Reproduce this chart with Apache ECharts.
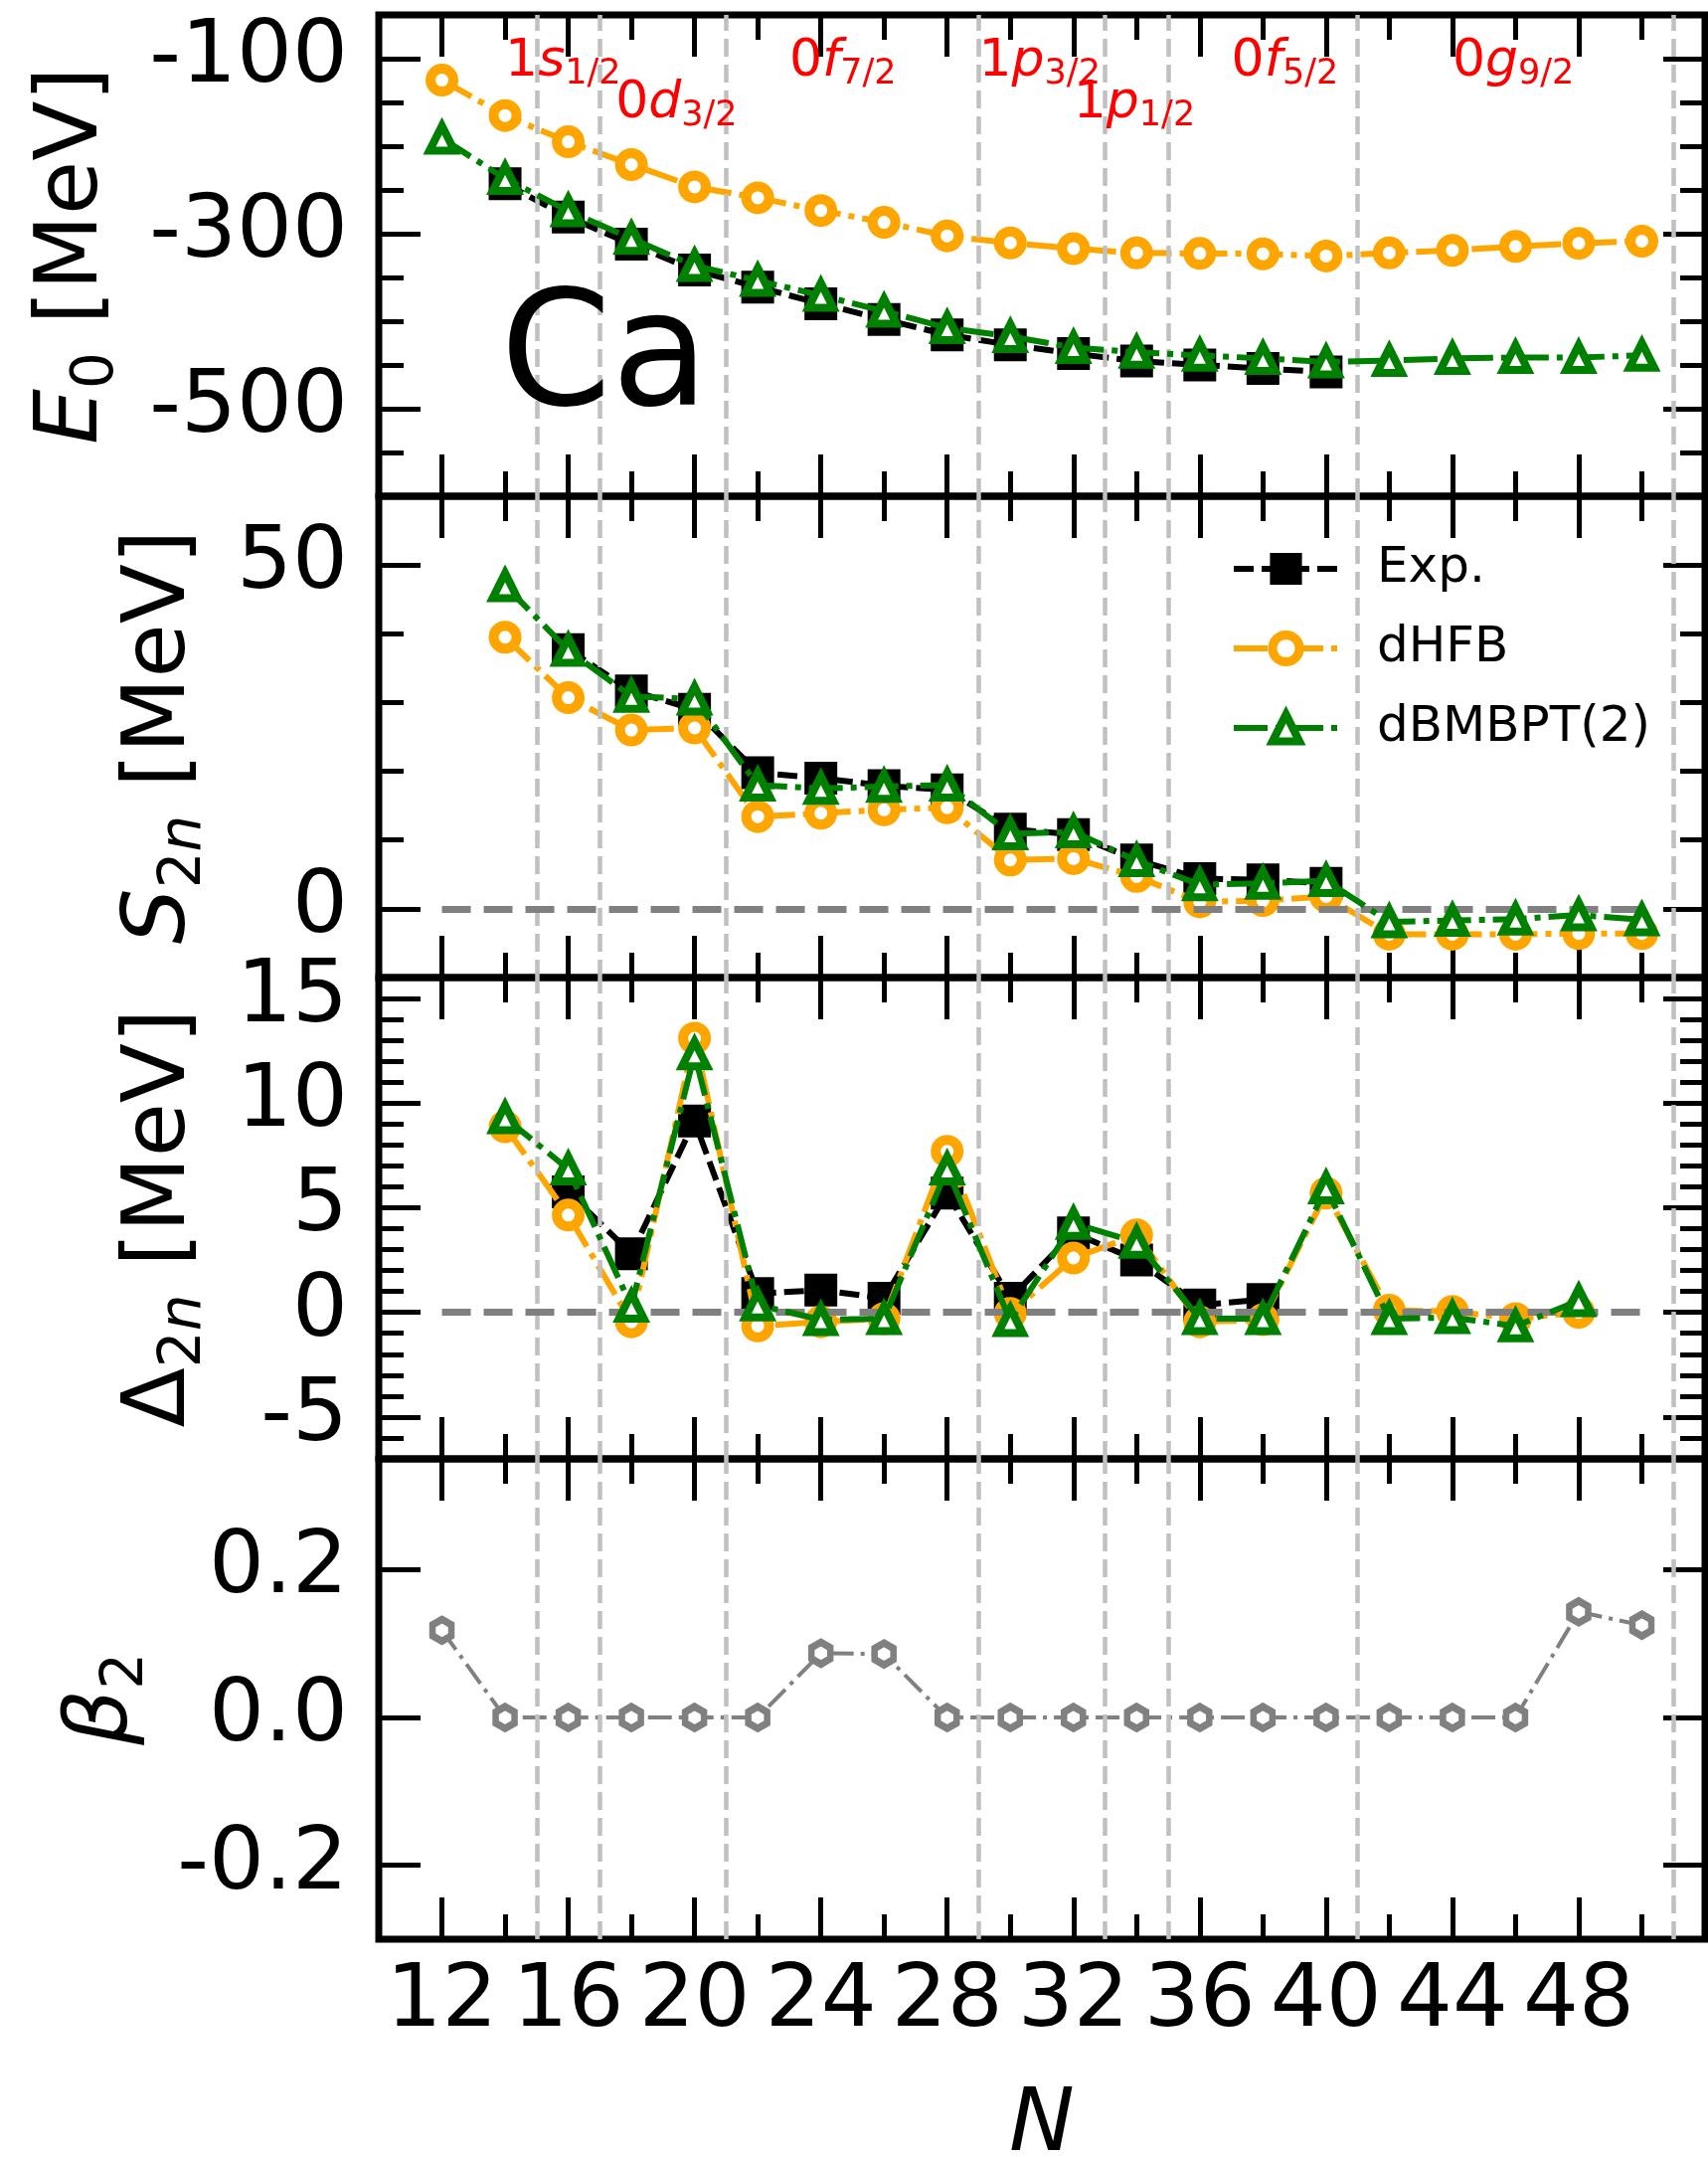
<!DOCTYPE html>
<html><head><meta charset="utf-8">
<script src="https://cdn.jsdelivr.net/npm/echarts@6/dist/echarts.min.js"></script>
<style>html,body{margin:0;padding:0;background:#fff}#chart{width:1718px;height:2169px}</style>
</head><body><div id="chart"></div>
<script>
// ---------------- data ----------------
const N = [12,14,16,18,20,22,24,26,28,30,32,34,36,38,40,42,44,46,48,50];

const E0_exp    = [null,-243,-281,-312,-341.5,-361,-380,-398,-415.5,-427,-437,-445.5,-450,-454,-458,null,null,null,null,null];
const E0_dhfb   = [-124.5,-165,-195,-221,-246.5,-259,-273.5,-287,-302.5,-310.5,-317,-322,-322.5,-323,-325.5,-322,-319,-314.5,-311,-308.5];
const E0_dbmbpt = [-191,-237,-274,-305.5,-336.5,-353.5,-370.5,-388.5,-407.5,-417.5,-430,-435.5,-439,-442.5,-446.5,-445,-442.5,-441.5,-441.5,-439];

const S2n_exp    = [null,null,37.7,31.7,29.0,19.8,19.0,17.9,17.3,11.6,10.8,7.1,4.4,4.2,3.7,null,null,null,null,null];
const S2n_dhfb   = [null,39.5,30.7,26.0,26.3,13.4,13.9,14.4,14.7,7.1,7.3,4.7,1.0,1.2,1.8,-3.7,-3.7,-3.7,-3.6,-3.6];
const S2n_dbmbpt = [null,47.0,37.6,30.9,30.5,18.0,17.5,17.8,18.0,10.9,11.2,7.0,3.5,3.7,4.1,-1.9,-1.7,-1.5,-0.9,-1.6];

const D2n_exp    = [null,null,5.76,2.8,9.14,0.9,1.07,0.67,5.7,0.67,3.8,2.5,0.35,0.62,null,null,null,null,null,null];
const D2n_dhfb   = [null,8.87,4.65,-0.45,13.1,-0.65,-0.45,-0.3,7.7,-0.05,2.6,3.7,-0.45,-0.35,5.7,0.1,0.05,-0.3,0.0,null];
const D2n_dbmbpt = [null,9.3,6.85,0.3,12.35,0.35,-0.35,-0.3,6.85,-0.4,4.25,3.35,-0.3,-0.3,5.95,-0.3,-0.25,-0.65,0.55,null];

const beta2 = [0.118,0,0,0,0,0,0.087,0.086,0,0,0,0,0,0,0,0,0,0,0.143,0.125];

const shellLines = [15,17,21,29,33,35,41,51];
const zeroLineRange = [12,50];

const shellLabelN = [14,17.5,23,29,32,37,44];
const shellLabelE = [-104,-152,-104,-104,-152,-104,-104];
const shellLabelText = [['1','s','1/2'],['0','d','3/2'],['0','f','7/2'],['1','p','3/2'],['1','p','1/2'],['0','f','5/2'],['0','g','9/2']];
const elementLabel = {text:'Ca', N:13.85, E:-448};

const xMajor = [12,16,20,24,28,32,36,40,44,48];
const yMajor = [[-500,-300,-100],[0,50],[-5,0,5,10,15],[-0.2,0,0.2]];
const yRange = [[-600,-50],[-10,60],[-7,16],[-0.3,0.35]];
const yMinorStep = [50,10,1,null];
const legendNames = ['Exp.','dHFB','dBMBPT(2)'];

// ---------------- style ----------------
const FONT = 'DejaVu Sans';
const ORANGE = '#FFA500', GREEN = '#008000', GRAY = '#808080';
const gridTops = [15,499,983,1467];
const gridHeights = [484,484,484,483];
const TICKW = 5, MAJLEN = 42, MINLEN = 25;
const LW = 6;

function pairs(xs, ys){ return xs.map((x,i)=>[x, ys[i]]); }

const grids = gridTops.map((t,i)=>({left:381, right:3, top:t, height:gridHeights[i], show:true,
  outerBoundsMode:'none', containLabel:false,
  borderColor:'#000', borderWidth:7, backgroundColor:'rgba(0,0,0,0)'}));

const xAxes = [], yAxes = [];
const tickStyle = {color:'#000', width:TICKW};
const noLine = {show:false, onZero:false};
for (let g=0; g<4; g++){
  const base = {type:'value', gridIndex:g, min:10, max:52, splitLine:{show:false}, axisLine:noLine};
  const last = g===3;
  xAxes.push(Object.assign({}, base, {position:'bottom',
    axisTick:{show:true, inside:true, length:MAJLEN, lineStyle:tickStyle, customValues:xMajor},
    axisLabel:{show:last, customValues:xMajor, margin:20, fontSize:88, fontFamily:FONT, color:'#000'},
    name: last ? 'N' : '', nameLocation:'middle', nameGap:145,
    nameTextStyle:{fontSize:88, fontFamily:FONT, fontStyle:'italic', color:'#000'}}));
  xAxes.push(Object.assign({}, base, {position:'bottom', interval:2,
    axisTick:{show:true, inside:true, length:MINLEN, lineStyle:tickStyle}, axisLabel:{show:false}}));
  xAxes.push(Object.assign({}, base, {position:'top',
    axisTick:{show:true, inside:true, length:MAJLEN, lineStyle:tickStyle, customValues:xMajor}, axisLabel:{show:false}}));
  xAxes.push(Object.assign({}, base, {position:'top', interval:2,
    axisTick:{show:true, inside:true, length:MINLEN, lineStyle:tickStyle}, axisLabel:{show:false}}));
}

const yNames = [
  '{i|E}{s|0}{t| [MeV]}',
  '{i|S}{s|2}{si|n}{t| [MeV]}',
  '{t|\u0394}{s|2}{si|n}{t| [MeV]}',
  '{i|\u03b2}{s|2}'
];
const yNameGaps = [254,166,166,224];
const nameRich = {
  i:{fontSize:88, fontFamily:FONT, fontStyle:'italic', lineHeight:106, color:'#000'},
  t:{fontSize:88, fontFamily:FONT, lineHeight:106, color:'#000'},
  s:{fontSize:58, fontFamily:FONT, lineHeight:58, verticalAlign:'bottom', color:'#000'},
  si:{fontSize:58, fontFamily:FONT, fontStyle:'italic', lineHeight:58, verticalAlign:'bottom', color:'#000'}
};
for (let g=0; g<4; g++){
  const base = {type:'value', gridIndex:g, min:yRange[g][0], max:yRange[g][1], splitLine:{show:false}, axisLine:noLine};
  const fmt = g===3 ? (v)=>v.toFixed(1) : (v)=>String(v);
  yAxes.push(Object.assign({}, base, {position:'left',
    axisTick:{show:true, inside:true, length:MAJLEN, lineStyle:tickStyle, customValues:yMajor[g]},
    axisLabel:{show:true, customValues:yMajor[g], margin:31, fontSize:88, fontFamily:FONT, color:'#000', formatter:fmt},
    name: yNames[g], nameLocation:'middle', nameGap:yNameGaps[g], nameRotate:90,
    nameTextStyle:{fontSize:88, fontFamily:FONT, color:'#000', rich:nameRich}}));
  const hasMinor = yMinorStep[g] !== null;
  yAxes.push(Object.assign({}, base, {position:'left', interval: hasMinor ? yMinorStep[g] : undefined,
    axisTick:{show:hasMinor, inside:true, length:MINLEN, lineStyle:tickStyle}, axisLabel:{show:false}}));
  yAxes.push(Object.assign({}, base, {position:'right',
    axisTick:{show:true, inside:true, length:MAJLEN, lineStyle:tickStyle, customValues:yMajor[g]}, axisLabel:{show:false}}));
  yAxes.push(Object.assign({}, base, {position:'right', interval: hasMinor ? yMinorStep[g] : undefined,
    axisTick:{show:hasMinor, inside:true, length:MINLEN, lineStyle:tickStyle}, axisLabel:{show:false}}));
}

const series = [];
function helper(g, withZero){
  const ml = shellLines.map(v=>({xAxis:v, lineStyle:{color:'#c0c0c0', width:4.5, type:[18,8]}}));
  if (withZero) ml.push([{coord:[zeroLineRange[0],0], lineStyle:{color:GRAY, width:7, type:[29,13]}},{coord:[zeroLineRange[1],0]}]);
  series.push({type:'line', xAxisIndex:g*4, yAxisIndex:g*4, data:[], z:1, silent:true,
    markLine:{silent:true, symbol:['none','none'], label:{show:false}, animation:false, data:ml, emphasis:{disabled:true}}});
}
function trio(g, exp, hfb, bmb){
  series.push({name:'Exp.', type:'line', xAxisIndex:g*4, yAxisIndex:g*4, data:pairs(N,exp), z:3,
    lineStyle:{color:'#000', width:LW, type:[20,8]}, symbol:'rect', symbolSize:33,
    itemStyle:{color:'#000'}, emphasis:{disabled:true}});
  series.push({name:'dHFB', type:'line', xAxisIndex:g*4, yAxisIndex:g*4, data:pairs(N,hfb), z:4,
    lineStyle:{color:ORANGE, width:LW, type:[34,8,6,8]}, symbol:'circle', symbolSize:23,
    itemStyle:{color:'#fff', borderColor:ORANGE, borderWidth:10}, emphasis:{disabled:true}});
  series.push({name:'dBMBPT(2)', type:'line', xAxisIndex:g*4, yAxisIndex:g*4, data:pairs(N,bmb), z:5,
    lineStyle:{color:GREEN, width:LW, type:[34,8,6,8]}, symbol:'triangle', symbolSize:25,
    itemStyle:{color:'#fff', borderColor:GREEN, borderWidth:8, borderJoin:'miter'}, emphasis:{disabled:true}});
}

helper(0,false); trio(0, E0_exp, E0_dhfb, E0_dbmbpt);
helper(1,true);  trio(1, S2n_exp, S2n_dhfb, S2n_dbmbpt);
helper(2,true);  trio(2, D2n_exp, D2n_dhfb, D2n_dbmbpt);
helper(3,false);
series.push({name:'beta2', type:'line', xAxisIndex:12, yAxisIndex:12, data:pairs(N,beta2), z:3,
  lineStyle:{color:GRAY, width:4, type:[24,7,4,7]},
  symbol:'path://M0,-1L0.866,-0.5L0.866,0.5L0,1L-0.866,0.5L-0.866,-0.5Z', symbolSize:[19,22],
  itemStyle:{color:'#fff', borderColor:GRAY, borderWidth:7, borderJoin:'miter'}, emphasis:{disabled:true}});

// shell labels
series.push({type:'scatter', xAxisIndex:0, yAxisIndex:0, z:6, silent:true, symbolSize:0,
  itemStyle:{opacity:1},
  data: shellLabelN.map((n,i)=>({value:[n, shellLabelE[i]], txt:shellLabelText[i]})),
  label:{show:true, position:[0,0], align:'left', verticalAlign:'middle', opacity:1,
    formatter:(p)=>'{a|'+p.data.txt[0]+'}{b|'+p.data.txt[1]+'}{c|'+p.data.txt[2]+'}',
    rich:{
      a:{fontSize:52, fontFamily:FONT, color:'#FF0000', lineHeight:60},
      b:{fontSize:52, fontFamily:FONT, fontStyle:'italic', color:'#FF0000', lineHeight:60},
      c:{fontSize:35, fontFamily:FONT, color:'#FF0000', lineHeight:35, verticalAlign:'bottom'}
    }},
  emphasis:{disabled:true}});
series.push({type:'scatter', xAxisIndex:0, yAxisIndex:0, z:6, silent:true, symbolSize:0,
  itemStyle:{opacity:1},
  data:[{value:[elementLabel.N, elementLabel.E]}],
  label:{show:true, position:[0,0], align:'left', verticalAlign:'middle', formatter:elementLabel.text, opacity:1,
    fontSize:160, fontFamily:FONT, color:'#000'},
  emphasis:{disabled:true}});

const option = {
  animation:false,
  backgroundColor:'#fff',
  grid:grids, xAxis:xAxes, yAxis:yAxes, series:series,
  legend:{
    data:[
      {name:legendNames[0], itemStyle:{borderWidth:5, borderColor:'#000'}},
      {name:legendNames[1], itemStyle:{borderWidth:9, borderColor:ORANGE}},
      {name:legendNames[2], itemStyle:{borderWidth:8, borderColor:GREEN}}
    ],
    orient:'vertical', left:1238, top:547, padding:0, itemWidth:105, itemHeight:34,
    itemGap:30, selectedMode:false, lineStyle:{width:6},
    textStyle:{fontSize:50, fontFamily:FONT, color:'#000', padding:[0,0,0,34]}}
};
const chart = echarts.init(document.getElementById('chart'), null, {renderer:'canvas', width:1718, height:2169});
chart.setOption(option);
</script></body></html>
